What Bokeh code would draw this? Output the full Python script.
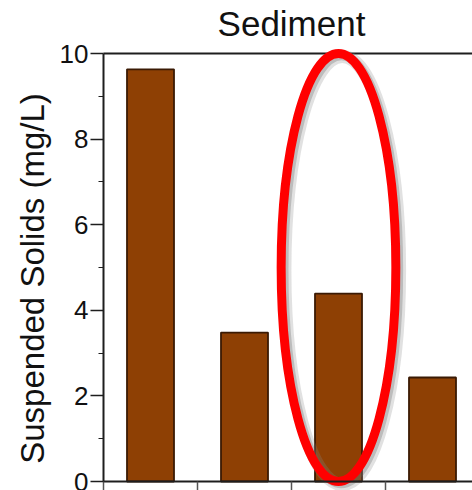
import math
from bokeh.plotting import figure
from bokeh.models import Range1d, FixedTicker, Label
from bokeh.embed import file_html
from bokeh.resources import INLINE

# ---- data ----
categories = ["A", "B", "C", "D"]
suspended_solids = [9.63, 3.48, 4.39, 2.43]
y_ticks = [0, 2, 4, 6, 8, 10]
y_minor_ticks = [1, 3, 5, 7, 9]
highlight_index = 2
title_text = "Sediment"
y_label = "Suspended Solids (mg/L)"

# ---- layout constants ----
FONT = "Liberation Sans"
AXIS_COLOR = "#1e1e1e"
BAR_FILL = "#8E4004"
BAR_LINE = "#3a1a04"

n = len(categories)
x_pos = [i + 0.5 for i in range(n)]
px_per_unit = 42.8
px_per_cat = 94
y_start = -9 / px_per_unit
y_end = 481 / px_per_unit
x_start = -103 / px_per_cat
x_end = 369 / px_per_cat

p = figure(width=472, height=490, output_backend="svg", toolbar_location=None,
           x_range=Range1d(x_start, x_end), y_range=Range1d(y_start, y_end),
           min_border_left=0, min_border_right=0, min_border_top=0,
           min_border_bottom=0, title=None)
p.outline_line_color = None
p.xgrid.visible = False
p.ygrid.visible = False
p.background_fill_color = "white"
p.border_fill_color = "white"

# bars
p.vbar(x=x_pos, top=suspended_solids, width=0.5, bottom=0,
       fill_color=BAR_FILL, line_color=BAR_LINE, line_width=1.8)

# top border (from the y axis to the right edge)
p.segment(x0=[0], y0=[y_ticks[-1]], x1=[x_end], y1=[y_ticks[-1]],
          line_color=AXIS_COLOR, line_width=2)

# highlight ellipse around the chosen category (with soft shadow)
hx = x_pos[highlight_index]
hy = (y_ticks[0] + y_ticks[-1]) / 2
hw = 1.22
hh = y_ticks[-1] - y_ticks[0]
p.ellipse(x=[hx + 0.04], y=[hy - 0.07], width=hw, height=hh,
          fill_color=None, line_color="#888888", line_alpha=0.25, line_width=13)
p.ellipse(x=[hx + 0.03], y=[hy - 0.05], width=hw, height=hh,
          fill_color=None, line_color="#666666", line_alpha=0.3, line_width=9)
p.ellipse(x=[hx], y=[hy], width=hw, height=hh,
          fill_color=None, line_color="#ff0000", line_width=9)

# title as label
p.add_layout(Label(x=n / 2, y=(481 - 22.5) / px_per_unit,
                   text=title_text, text_align="center",
                   text_baseline="middle", text_font=FONT,
                   text_font_size="35px", text_color="#111111"))

# y axis label as rotated label centred on the 0..10 span
p.add_layout(Label(x=(31.5 - 103) / px_per_cat, y=hy - 11 / px_per_unit,
                   text=y_label, angle=math.pi / 2, text_align="center",
                   text_baseline="middle", text_font=FONT,
                   text_font_size="33px", text_color="#111111"))

# y axis, fixed at x = 0
ya = p.yaxis[0]
ya.fixed_location = 0
ya.bounds = (y_ticks[0], y_ticks[-1])
ya.ticker = FixedTicker(ticks=y_ticks, minor_ticks=y_minor_ticks)
ya.axis_line_color = AXIS_COLOR
ya.axis_line_width = 2
ya.major_tick_line_color = AXIS_COLOR
ya.minor_tick_line_color = AXIS_COLOR
ya.major_tick_line_width = 1.5
ya.minor_tick_line_width = 1.2
ya.major_tick_out = 13
ya.major_tick_in = 0
ya.minor_tick_out = 5
ya.minor_tick_in = 0
ya.major_label_standoff = 2
ya.major_label_text_font = FONT
ya.major_label_text_font_size = "26px"
ya.major_label_text_color = "#111111"

# x axis, fixed at y = 0
xa = p.xaxis[0]
xa.fixed_location = 0
xa.bounds = (0, x_end)
xa.ticker = FixedTicker(ticks=list(range(n + 1)), minor_ticks=[])
xa.axis_line_color = AXIS_COLOR
xa.axis_line_width = 2
xa.major_tick_line_color = "#555555"
xa.major_tick_line_width = 1.5
xa.major_tick_out = 13
xa.major_tick_in = 0
xa.minor_tick_line_color = None
xa.major_label_overrides = {i: "" for i in range(n + 1)}
xa.major_label_text_font_size = "0px"

open("out.html", "w").write(file_html(p, INLINE))
